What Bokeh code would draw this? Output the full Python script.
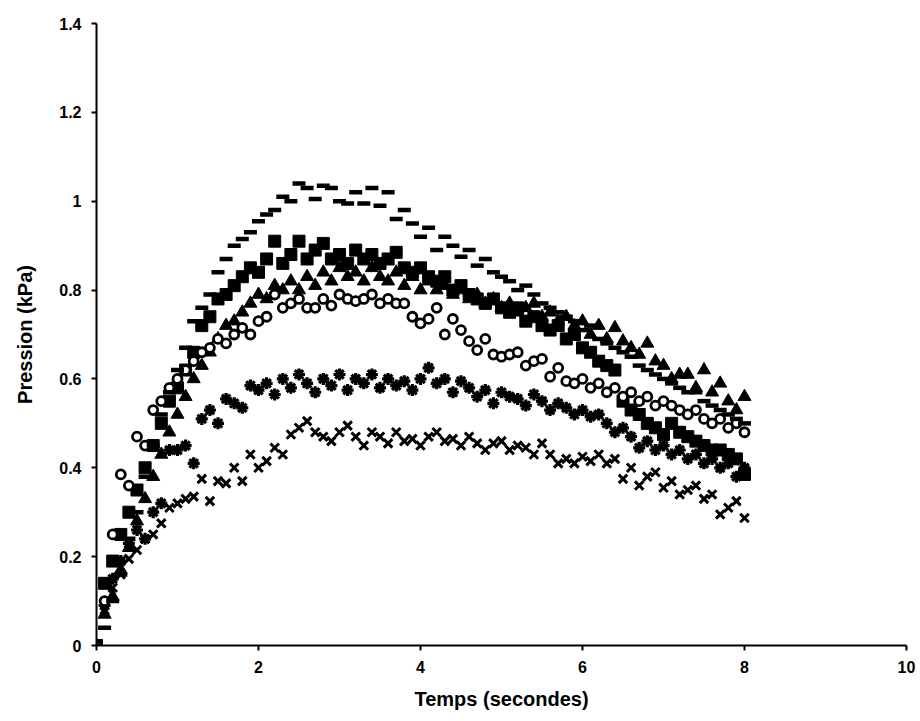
from bokeh.plotting import figure
from bokeh.models import FixedTicker
from bokeh.embed import file_html
from bokeh.resources import INLINE

# time (s)
temps = [0.0, 0.1, 0.2, 0.3, 0.4, 0.5, 0.6, 0.7, 0.8, 0.9,
         1.0, 1.1, 1.2, 1.3, 1.4, 1.5, 1.6, 1.7, 1.8, 1.9,
         2.0, 2.1, 2.2, 2.3, 2.4, 2.5, 2.6, 2.7, 2.8, 2.9,
         3.0, 3.1, 3.2, 3.3, 3.4, 3.5, 3.6, 3.7, 3.8, 3.9,
         4.0, 4.1, 4.2, 4.3, 4.4, 4.5, 4.6, 4.7, 4.8, 4.9,
         5.0, 5.1, 5.2, 5.3, 5.4, 5.5, 5.6, 5.7, 5.8, 5.9,
         6.0, 6.1, 6.2, 6.3, 6.4, 6.5, 6.6, 6.7, 6.8, 6.9,
         7.0, 7.1, 7.2, 7.3, 7.4, 7.5, 7.6, 7.7, 7.8, 7.9,
         8.0]

# series (kPa)
serie_tirets = [0.0, 0.04, 0.10, 0.16, 0.24, 0.30, 0.38, 0.45, 0.52, 0.57,
                0.62, 0.67, 0.73, 0.76, 0.79, 0.84, 0.87, 0.90, 0.915, 0.93,
                0.955, 0.97, 0.98, 1.01, 1.00, 1.04, 1.03, 1.005, 1.035, 1.03,
                1.00, 0.995, 1.02, 0.995, 1.03, 0.99, 1.02, 0.96, 0.98, 0.95,
                0.92, 0.94, 0.89, 0.92, 0.90, 0.875, 0.89, 0.855, 0.87, 0.84,
                0.83, 0.82, 0.80, 0.81, 0.79, 0.77, 0.76, 0.75, 0.74, 0.73,
                0.71, 0.72, 0.69, 0.68, 0.67, 0.66, 0.65, 0.63, 0.62, 0.61,
                0.60, 0.59, 0.58, 0.57, 0.57, 0.55, 0.54, 0.53, 0.52, 0.51,
                0.50]

serie_carres = [0.0, 0.14, 0.19, 0.25, 0.30, 0.35, 0.40, 0.45, 0.50, 0.55,
                0.58, 0.62, 0.66, 0.72, 0.74, 0.78, 0.79, 0.81, 0.83, 0.85,
                0.84, 0.87, 0.91, 0.86, 0.88, 0.91, 0.87, 0.89, 0.905, 0.87,
                0.88, 0.86, 0.89, 0.87, 0.88, 0.86, 0.87, 0.885, 0.85, 0.84,
                0.85, 0.83, 0.82, 0.83, 0.80, 0.81, 0.79, 0.78, 0.77, 0.78,
                0.76, 0.75, 0.76, 0.73, 0.74, 0.72, 0.71, 0.72, 0.69, 0.70,
                0.67, 0.66, 0.64, 0.63, 0.62, 0.55, 0.53, 0.52, 0.50, 0.49,
                0.475, 0.50, 0.48, 0.47, 0.46, 0.45, 0.44, 0.44, 0.43, 0.42,
                0.385]

serie_triangles = [0.0, 0.07, 0.11, 0.17, 0.22, 0.28, 0.33, 0.38, 0.43, 0.48,
                   0.52, 0.56, 0.60, 0.63, 0.66, 0.69, 0.72, 0.73, 0.75, 0.77,
                   0.79, 0.78, 0.81, 0.80, 0.82, 0.80, 0.83, 0.81, 0.84, 0.82,
                   0.85, 0.83, 0.84, 0.82, 0.85, 0.83, 0.82, 0.84, 0.81, 0.83,
                   0.80, 0.82, 0.80, 0.81, 0.79, 0.80, 0.78, 0.79, 0.77, 0.78,
                   0.76, 0.77, 0.75, 0.76, 0.77, 0.74, 0.75, 0.73, 0.74, 0.72,
                   0.73, 0.70, 0.72, 0.69, 0.715, 0.685, 0.67, 0.655, 0.68, 0.64,
                   0.63, 0.60, 0.61, 0.61, 0.58, 0.62, 0.57, 0.59, 0.55, 0.53,
                   0.56]

serie_cercles = [0.0, 0.10, 0.25, 0.385, 0.36, 0.47, 0.45, 0.53, 0.55, 0.58,
                 0.60, 0.62, 0.64, 0.66, 0.67, 0.69, 0.68, 0.70, 0.715, 0.70,
                 0.73, 0.74, 0.79, 0.76, 0.77, 0.78, 0.76, 0.76, 0.78, 0.765,
                 0.79, 0.78, 0.775, 0.78, 0.79, 0.77, 0.78, 0.77, 0.77, 0.74,
                 0.725, 0.735, 0.76, 0.70, 0.735, 0.71, 0.685, 0.665, 0.69, 0.655,
                 0.65, 0.655, 0.66, 0.63, 0.64, 0.645, 0.605, 0.625, 0.595, 0.59,
                 0.60, 0.58, 0.59, 0.57, 0.58, 0.56, 0.57, 0.55, 0.56, 0.54,
                 0.55, 0.54, 0.53, 0.52, 0.53, 0.51, 0.50, 0.51, 0.49, 0.50,
                 0.48]

serie_etoiles = [0.0, 0.09, 0.15, 0.19, 0.23, 0.26, 0.24, 0.30, 0.32, 0.44,
                 0.44, 0.45, 0.41, 0.51, 0.53, 0.50, 0.555, 0.545, 0.535, 0.585,
                 0.575, 0.59, 0.565, 0.60, 0.58, 0.61, 0.59, 0.57, 0.60, 0.585,
                 0.61, 0.575, 0.60, 0.59, 0.61, 0.58, 0.60, 0.585, 0.595, 0.575,
                 0.60, 0.625, 0.59, 0.60, 0.57, 0.595, 0.58, 0.56, 0.575, 0.545,
                 0.57, 0.56, 0.555, 0.54, 0.565, 0.55, 0.53, 0.545, 0.535, 0.52,
                 0.53, 0.515, 0.52, 0.50, 0.48, 0.49, 0.47, 0.445, 0.46, 0.44,
                 0.45, 0.43, 0.44, 0.42, 0.43, 0.41, 0.42, 0.40, 0.41, 0.38,
                 0.40]

serie_croix = [0.0, 0.08, 0.13, 0.16, 0.195, 0.215, 0.24, 0.25, 0.275, 0.31,
               0.32, 0.33, 0.335, 0.375, 0.325, 0.37, 0.365, 0.40, 0.37, 0.43,
               0.40, 0.415, 0.445, 0.43, 0.475, 0.49, 0.505, 0.48, 0.47, 0.46,
               0.48, 0.495, 0.47, 0.45, 0.48, 0.47, 0.455, 0.48, 0.46, 0.465,
               0.45, 0.47, 0.48, 0.46, 0.465, 0.45, 0.47, 0.455, 0.44, 0.455,
               0.46, 0.44, 0.45, 0.445, 0.43, 0.455, 0.43, 0.41, 0.42, 0.41,
               0.425, 0.415, 0.43, 0.41, 0.42, 0.375, 0.40, 0.36, 0.38, 0.39,
               0.355, 0.37, 0.34, 0.35, 0.36, 0.33, 0.34, 0.295, 0.31, 0.325,
               0.287]

x_ticks = [0, 2, 4, 6, 8, 10]
x_tick_labels = ["0", "2", "4", "6", "8", "10"]
y_ticks = [0, 0.2, 0.4, 0.6, 0.8, 1.0, 1.2, 1.4]
y_tick_labels = ["0", "0.2", "0.4", "0.6", "0.8", "1", "1.2", "1.4"]

FONT = "Liberation Sans"

p = figure(width=920, height=721, x_range=(0, 10), y_range=(0, 1.4),
           output_backend="svg", toolbar_location=None,
           min_border_left=96, min_border_right=14,
           min_border_top=23, min_border_bottom=76)
p.outline_line_color = None
p.grid.visible = False
p.background_fill_color = "white"
p.border_fill_color = "white"

p.scatter(temps, serie_carres, marker="square", size=12, color="black")
p.scatter(temps, serie_triangles, marker="triangle", size=13, color="black")
p.scatter(temps, serie_etoiles, marker="asterisk", size=12, line_color="black", line_width=3.2)
p.scatter(temps, serie_croix, marker="x", size=12, line_color="black", line_width=3)
p.scatter(temps, serie_cercles, marker="circle", size=9, line_color="black",
          fill_color="white", line_width=2.8)
p.scatter(temps, serie_tirets, marker="dash", size=13, line_color="black", line_width=4.5)

for ax in (p.xaxis[0], p.yaxis[0]):
    ax.axis_line_color = "black"
    ax.axis_line_width = 2
    ax.major_tick_line_color = "black"
    ax.major_tick_line_width = 2
    ax.major_tick_out = 5
    ax.major_tick_in = 0
    ax.minor_tick_line_color = None
    ax.major_label_text_font = FONT
    ax.major_label_text_font_style = "bold"
    ax.major_label_text_font_size = "16px"
    ax.major_label_text_color = "black"
    ax.axis_label_text_font = FONT
    ax.axis_label_text_font_style = "bold"
    ax.axis_label_text_font_size = "20px"
    ax.axis_label_text_color = "black"

p.xaxis.ticker = FixedTicker(ticks=x_ticks)
p.xaxis.major_label_overrides = {t: l for t, l in zip(x_ticks, x_tick_labels)}
p.yaxis.ticker = FixedTicker(ticks=y_ticks)
p.yaxis.major_label_overrides = {t: l for t, l in zip(y_ticks, y_tick_labels)}
p.xaxis.axis_label = "Temps (secondes)"
p.yaxis.axis_label = "Pression (kPa)"
p.xaxis.major_label_standoff = 10
p.yaxis.major_label_standoff = 10
p.xaxis.axis_label_standoff = 12
p.yaxis.axis_label_standoff = 20

open("out.html", "w").write(file_html(p, INLINE))
